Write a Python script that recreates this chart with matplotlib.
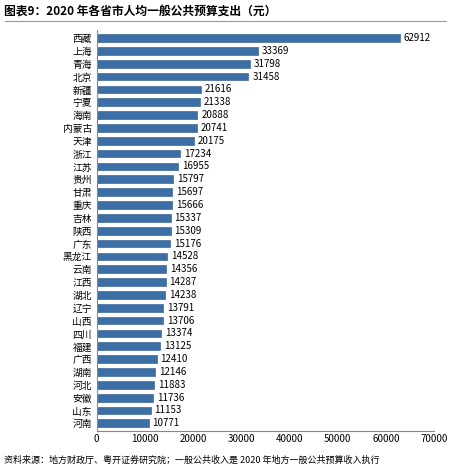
import matplotlib.pyplot as plt
import numpy as np

plt.rcParams['font.family'] = ['Noto Sans CJK SC', 'DejaVu Sans']

provinces = ['西藏', '上海', '青海', '北京', '新疆', '宁夏', '海南', '内蒙古', '天津', '浙江',
             '江苏', '贵州', '甘肃', '重庆', '吉林', '陕西', '广东', '黑龙江', '云南', '江西',
             '湖北', '辽宁', '山西', '四川', '福建', '广西', '湖南', '河北', '安徽', '山东', '河南']
spending = [62912, 33369, 31798, 31458, 21616, 21338, 20888, 20741, 20175, 17234,
            16955, 15797, 15697, 15666, 15337, 15309, 15176, 14528, 14356, 14287,
            14238, 13791, 13706, 13374, 13125, 12410, 12146, 11883, 11736, 11153, 10771]

fig = plt.figure(figsize=(4.5, 4.66), dpi=100)
ax = fig.add_axes([0.215, 0.075, 0.75, 0.86])

y = np.arange(len(provinces))
ax.barh(y, spending, height=0.6, color='#3b6fa6', edgecolor='#2a5585', linewidth=0.4)
for yi, v in zip(y, spending):
    ax.text(v + 800, yi, str(v), va='center', fontsize=7)

ax.set_yticks(y)
ax.set_yticklabels(provinces, fontsize=7)
ax.set_ylim(len(provinces) - 0.4, -0.6)
ax.set_xlim(0, 70000)
ax.set_xticks(range(0, 70001, 10000))
ax.tick_params(axis='x', labelsize=7, length=0, pad=2)
ax.tick_params(axis='y', length=0)
for s in ['top', 'right']:
    ax.spines[s].set_visible(False)
ax.spines['left'].set_color('#888888')
ax.spines['bottom'].set_color('#888888')

fig.text(0.01, 0.975, '图表9：2020 年各省市人均一般公共预算支出（元）', fontsize=8.5,
         fontweight='bold', va='center')
fig.add_artist(plt.Line2D([0.01, 0.99], [0.955, 0.955], color='#999999', lw=0.8))
fig.text(0.01, 0.002, '资料来源：地方财政厅、粤开证券研究院；一般公共收入是 2020 年地方一般公共预算收入执行',
         fontsize=6.5, style='italic', va='bottom')

fig.savefig('out.png', dpi=100)
